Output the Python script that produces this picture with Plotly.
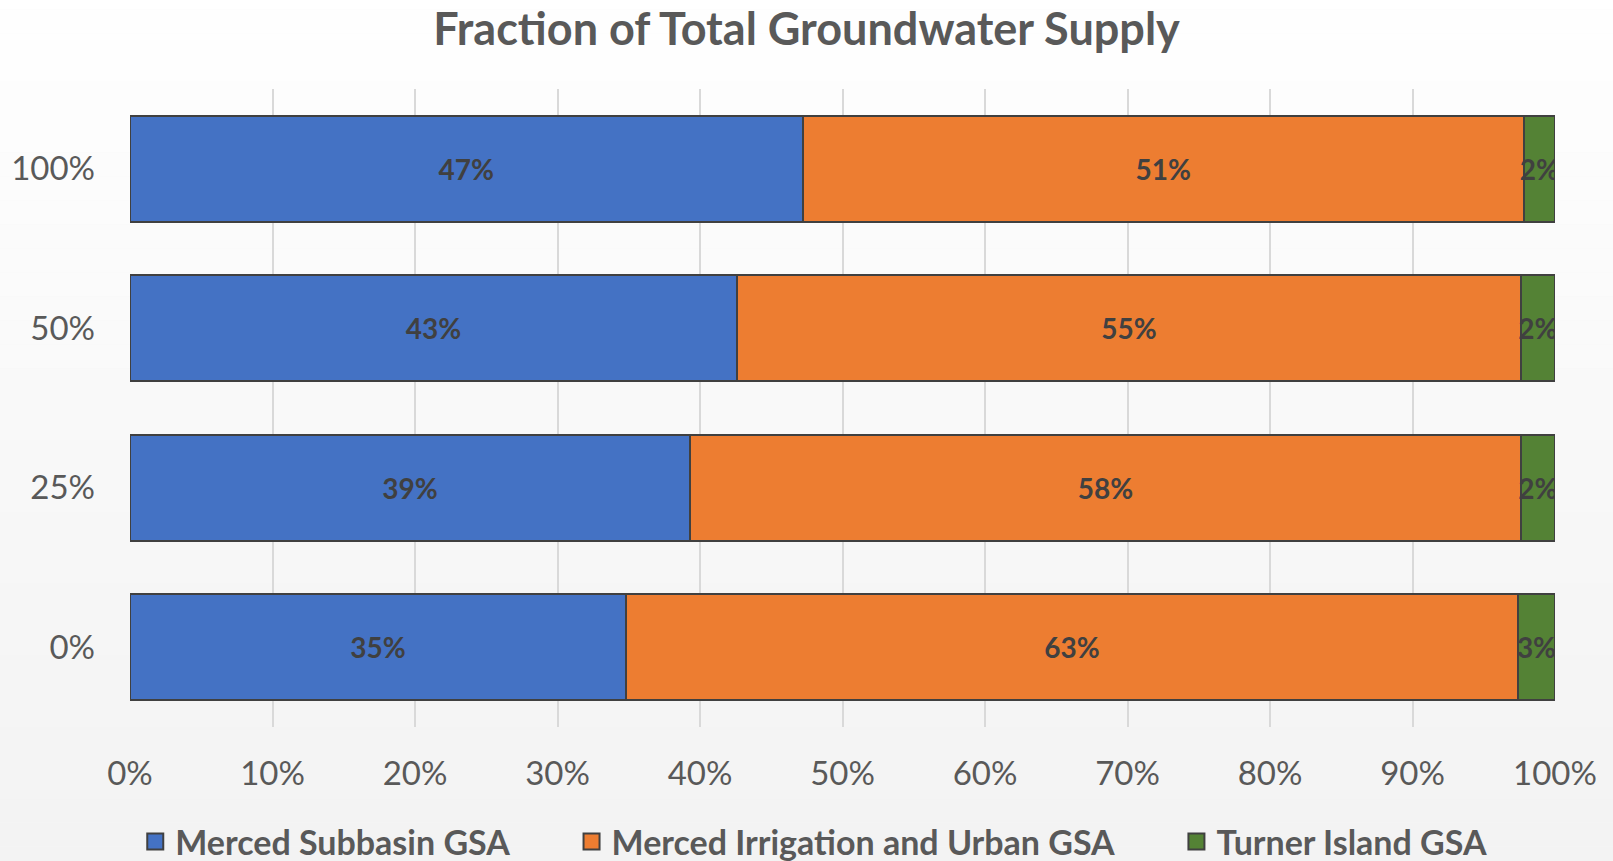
import plotly.graph_objects as go

categories = ["0%", "25%", "50%", "100%"]
merced_subbasin = [0.348, 0.393, 0.426, 0.472]
merced_irrigation = [0.626, 0.583, 0.550, 0.506]
turner_island = [0.026, 0.024, 0.024, 0.022]
series_names = ["Merced Subbasin GSA", "Merced Irrigation and Urban GSA", "Turner Island GSA"]
colors = ["#4472C4", "#ED7D31", "#548235"]
x_ticks = [i / 10 for i in range(11)]

FONT = "Lato"
EDGE = "#404040"
fig = go.Figure()
for name, vals, col in zip(series_names, [merced_subbasin, merced_irrigation, turner_island], colors):
    fig.add_trace(go.Bar(
        y=categories, x=vals, name=name, orientation="h", showlegend=False,
        marker=dict(color=col, line=dict(color=EDGE, width=2)),
        texttemplate="%{x:.0%}", textposition="inside", insidetextanchor="middle",
        constraintext="none", textangle=0,
        textfont=dict(family=FONT, size=28, color="#404040", weight="bold"),
    ))
# legend entries with larger square swatches
pad = "\u00a0" * 7
for i, (name, col) in enumerate(zip(series_names, colors)):
    fig.add_trace(go.Scatter(
        x=[None], y=[None], mode="markers",
        name=name + (pad if i < len(series_names) - 1 else ""),
        marker=dict(symbol="square", size=16, color=col, line=dict(color=EDGE, width=2)),
    ))

# vertical gradient background (white -> #f2f2f2)
n = 40
for i in range(n):
    v = round(255 - (255 - 242) * (i + 0.5) / n)
    fig.add_shape(type="rect", xref="paper", yref="paper",
                  x0=-0.5, x1=1.5, y0=1.2 - (i + 1) * 1.5 / n, y1=1.2 - i * 1.5 / n,
                  fillcolor=f"rgb({v},{v},{v})", line=dict(width=0), layer="below")

fig.update_layout(
    width=1613, height=861,
    barmode="stack", bargap=1/3,
    paper_bgcolor="#f7f7f7", plot_bgcolor="rgba(0,0,0,0)",
    margin=dict(l=130, r=58, t=89, b=134, autoexpand=False),
    title=dict(text="<b>Fraction of Total Groundwater Supply</b>", x=0.5, xanchor="center",
               y=1 - 29/861, yanchor="middle",
               font=dict(family=FONT, size=45, color="#595959")),
    xaxis=dict(range=[0, 1], tickvals=x_ticks, tickformat=".0%", automargin=False,
               showgrid=True, gridcolor="#d9d9d9", gridwidth=1.5, zeroline=False,
               showline=False, ticklabelstandoff=24,
               tickfont=dict(family=FONT, size=33, color="#595959")),
    yaxis=dict(showgrid=False, zeroline=False, showline=False, ticklabelstandoff=34,
               automargin=False,
               tickfont=dict(family=FONT, size=33, color="#595959")),
    legend=dict(orientation="h", xref="container", x=0.5045, xanchor="center", yref="container",
                y=(861 - 842) / 861, yanchor="middle",
                font=dict(family=FONT, size=34, color="#595959", weight="bold"),
                traceorder="normal", bgcolor="rgba(0,0,0,0)", itemsizing="trace",
                tracegroupgap=0),
    showlegend=True,
)
fig.write_html("out.html", config={"displayModeBar": False},
               post_script="document.body.style.margin='0';")
